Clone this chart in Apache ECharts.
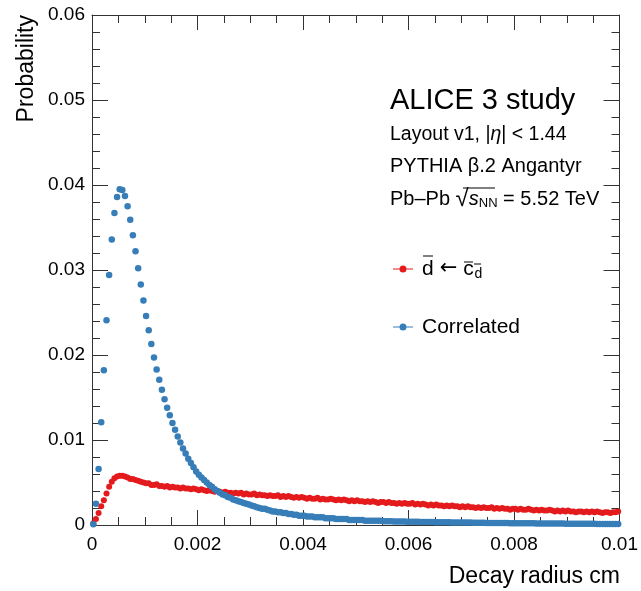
<!DOCTYPE html>
<html>
<head>
<meta charset="utf-8">
<script src="https://cdn.jsdelivr.net/npm/echarts@6/dist/echarts.min.js"></script>
<style>
  html, body { margin: 0; padding: 0; background: #fff; }
  #chart { width: 641px; height: 591px; }
</style>
</head>
<body>
<div id="chart"></div>
<script>
// Decay-radius distributions, 200 bins of 0.00005 cm between 0 and 0.01 cm
const binWidth = 0.00005;

// d̄ from c̄_d decays (per-bin probability)
const fromCharm = [
  0.0002, 0.0007, 0.0014, 0.0022, 0.0029, 0.0037, 0.0045, 0.0051, 0.0055, 0.0057,
  0.0058, 0.0058, 0.0057, 0.0056, 0.0054, 0.0054, 0.0053, 0.0052, 0.0051, 0.0050,
  0.0049, 0.0049, 0.0047, 0.0047, 0.0048, 0.0046, 0.0046, 0.0045, 0.0046, 0.0044,
  0.0045, 0.0044, 0.0044, 0.0043, 0.0044, 0.0043, 0.0043, 0.0042, 0.0043, 0.0042,
  0.0041, 0.0042, 0.0041, 0.0040, 0.0041, 0.0040, 0.0039, 0.0040, 0.0039, 0.0038,
  0.0039, 0.0038, 0.0038, 0.0037, 0.0038, 0.0037, 0.0038, 0.0036, 0.0037, 0.0036,
  0.0036, 0.0037, 0.0035, 0.0036, 0.0035, 0.0035, 0.0034, 0.0035, 0.0034, 0.0034,
  0.0035, 0.0033, 0.0034, 0.0033, 0.0034, 0.0033, 0.0032, 0.0033, 0.0032, 0.0033,
  0.0032, 0.0031, 0.0032, 0.0031, 0.0031, 0.0032, 0.0030, 0.0031, 0.0030, 0.0030,
  0.0031, 0.0030, 0.0029, 0.0030, 0.0029, 0.0030, 0.0029, 0.0028, 0.0029, 0.0028,
  0.0029, 0.0028, 0.0028, 0.0027, 0.0028, 0.0027, 0.0028, 0.0027, 0.0026, 0.0027,
  0.0027, 0.0026, 0.0027, 0.0026, 0.0026, 0.0025, 0.0026, 0.0025, 0.0026, 0.0025,
  0.0025, 0.0026, 0.0024, 0.0025, 0.0024, 0.0025, 0.0024, 0.0023, 0.0024, 0.0023,
  0.0024, 0.0023, 0.0023, 0.0022, 0.0023, 0.0022, 0.0023, 0.0022, 0.0022, 0.0021,
  0.0022, 0.0021, 0.0022, 0.0021, 0.0021, 0.0020, 0.0021, 0.0020, 0.0021, 0.0020,
  0.0020, 0.0021, 0.0019, 0.0020, 0.0019, 0.0020, 0.0019, 0.0019, 0.0018, 0.0019,
  0.0019, 0.0018, 0.0019, 0.0018, 0.0018, 0.0019, 0.0018, 0.0017, 0.0018, 0.0017,
  0.0018, 0.0017, 0.0017, 0.0018, 0.0017, 0.0016, 0.0017, 0.0016, 0.0017, 0.0016,
  0.0017, 0.0016, 0.0016, 0.0015, 0.0016, 0.0016, 0.0015, 0.0016, 0.0015, 0.0016,
  0.0015, 0.0016, 0.0015, 0.0014, 0.0015, 0.0015, 0.0014, 0.0015, 0.0015, 0.0016
];

// Correlated background (per-bin probability)
const correlated = [
  0.0001, 0.0025, 0.0066, 0.0121, 0.0182, 0.0241, 0.0294, 0.0336, 0.0367, 0.0386,
  0.0395, 0.0394, 0.0387, 0.0375, 0.0359, 0.0341, 0.0322, 0.0302, 0.0283, 0.0264,
  0.0246, 0.0229, 0.0213, 0.0197, 0.0183, 0.0171, 0.0159, 0.0148, 0.0138, 0.0129,
  0.0120, 0.0112, 0.0104, 0.0097, 0.0090, 0.0084, 0.0078, 0.0073, 0.0068, 0.0063,
  0.0059, 0.0056, 0.0053, 0.0050, 0.0047, 0.0045, 0.0042, 0.0040, 0.0038, 0.0036,
  0.0035, 0.0033, 0.0032, 0.0030, 0.0029, 0.0028, 0.0027, 0.0026, 0.0025, 0.0024,
  0.0023, 0.0022, 0.0021, 0.0020, 0.0019, 0.0019, 0.0018, 0.0017, 0.0016, 0.0016,
  0.0015, 0.0015, 0.0014, 0.0014, 0.0013, 0.0013, 0.0012, 0.0012, 0.0011, 0.0011,
  0.0011, 0.0010, 0.0010, 0.0010, 0.0009, 0.0009, 0.0009, 0.0009, 0.0008, 0.0008,
  0.0008, 0.0008, 0.0007, 0.0007, 0.0007, 0.0007, 0.0007, 0.0006, 0.0006, 0.0006,
  0.0006, 0.0006, 0.0006, 0.0005, 0.0005, 0.0005, 0.0005, 0.0005, 0.0005, 0.0005,
  0.00045, 0.00044, 0.00044, 0.00043, 0.00042, 0.00042, 0.00041, 0.00040, 0.00040, 0.00039,
  0.00038, 0.00038, 0.00037, 0.00037, 0.00036, 0.00036, 0.00035, 0.00035, 0.00034, 0.00034,
  0.00033, 0.00033, 0.00032, 0.00032, 0.00031, 0.00031, 0.00030, 0.00030, 0.00030, 0.00029,
  0.00029, 0.00028, 0.00028, 0.00028, 0.00027, 0.00027, 0.00026, 0.00026, 0.00026, 0.00025,
  0.00025, 0.00025, 0.00024, 0.00024, 0.00024, 0.00023, 0.00023, 0.00023, 0.00022, 0.00022,
  0.00022, 0.00021, 0.00021, 0.00021, 0.00020, 0.00020, 0.00020, 0.00020, 0.00019, 0.00019,
  0.00019, 0.00018, 0.00018, 0.00018, 0.00018, 0.00017, 0.00017, 0.00017, 0.00017, 0.00016,
  0.00016, 0.00016, 0.00016, 0.00015, 0.00015, 0.00015, 0.00015, 0.00014, 0.00014, 0.00014,
  0.00014, 0.00013, 0.00013, 0.00013, 0.00013, 0.00012, 0.00012, 0.00012, 0.00012, 0.00011
];

const seriesNames = ['fromCharm', 'Correlated'];
const seriesColors = ['#e41a1c', '#377eb8'];

const binCenters = fromCharm.map((_, i) => (i + 0.5) * binWidth);
const toPoints = vals => vals.map((v, i) => [binCenters[i], v]);

const FONT = '"Liberation Sans", Arial, Helvetica, sans-serif';
const AX = '#333';

const chart = echarts.init(document.getElementById('chart'), null, { renderer: 'canvas' });

// shared frame style: axes stay on the plot edges
const frameAxis = {
  axisLine: { show: true, onZero: false, lineStyle: { color: AX, width: 1 } },
  splitLine: { show: false }
};

// markers drawn as "—•—" in the legend
const legendIcon = 'path://M0,3 L6.5,3 L6.5,4 L0,4 Z M13.5,3 L20,3 L20,4 L13.5,4 Z M13.5,3.5 A3.5,3.5 0 1,1 6.5,3.5 A3.5,3.5 0 1,1 13.5,3.5 Z';

chart.setOption({
  backgroundColor: '#fff',
  animation: false,
  textStyle: { fontFamily: FONT },
  grid: { left: 92, right: 21, top: 15, bottom: 66 },
  xAxis: [
    Object.assign({}, frameAxis, {
      type: 'value', min: 0, max: 0.01, interval: 0.002, position: 'bottom',
      axisTick: { show: true, inside: true, length: 15, lineStyle: { color: AX } },
      minorTick: { show: true, splitNumber: 4, length: 8, lineStyle: { color: AX } },
      axisLabel: { color: '#000', fontSize: 19, margin: 10, fontFamily: FONT,
        formatter: v => (v === 0 ? '0' : String(+v.toFixed(3))) }
    }),
    Object.assign({}, frameAxis, {
      type: 'value', min: 0, max: 0.01, interval: 0.002, position: 'top',
      axisTick: { show: true, inside: true, length: 15, lineStyle: { color: AX } },
      minorTick: { show: true, splitNumber: 4, length: 8, lineStyle: { color: AX } },
      axisLabel: { show: false }
    })
  ],
  yAxis: [
    Object.assign({}, frameAxis, {
      type: 'value', min: 0, max: 0.06, interval: 0.01, position: 'left',
      axisTick: { show: true, inside: true, length: 16, lineStyle: { color: AX } },
      minorTick: { show: true, splitNumber: 5, length: 8, lineStyle: { color: AX } },
      axisLabel: { color: '#000', fontSize: 19, margin: 7, fontFamily: FONT,
        formatter: v => (v === 0 ? '0' : String(+v.toFixed(2))) }
    }),
    Object.assign({}, frameAxis, {
      type: 'value', min: 0, max: 0.06, interval: 0.01, position: 'right',
      axisTick: { show: true, inside: true, length: 16, lineStyle: { color: AX } },
      minorTick: { show: true, splitNumber: 5, length: 8, lineStyle: { color: AX } },
      axisLabel: { show: false }
    })
  ],
  legend: {
    orient: 'vertical', left: 388, top: 250, itemWidth: 20, itemHeight: 7,
    itemGap: 34, selectedMode: false,
    icon: legendIcon,
    data: seriesNames,
    formatter: name => name === 'fromCharm'
      ? '{g|}{d|d}{a|←}{c|c}{s|d}'
      : '{g|}{t|Correlated}',
    textStyle: {
      color: '#000', fontFamily: FONT, fontSize: 21, lineHeight: 24,
      rich: {
        g: { width: 4, height: 24 },
        d: { fontSize: 21, width: 12, fontFamily: FONT, lineHeight: 24 },
        a: { fontSize: 21, width: 29, align: 'center', fontFamily: '"DejaVu Sans", sans-serif', lineHeight: 24 },
        c: { fontSize: 21, width: 11, fontFamily: FONT, lineHeight: 24 },
        s: { fontSize: 14, width: 9, fontFamily: FONT, verticalAlign: 'bottom', lineHeight: 20, padding: [12, 0, 0, 0] },
        t: { fontSize: 21, fontFamily: FONT, lineHeight: 24 }
      }
    }
  },
  series: [
    {
      name: seriesNames[0], type: 'scatter', xAxisIndex: 0, yAxisIndex: 0,
      data: toPoints(fromCharm), symbol: 'circle', symbolSize: 6,
      itemStyle: { color: seriesColors[0], opacity: 1 }
    },
    {
      name: seriesNames[1], type: 'scatter', xAxisIndex: 0, yAxisIndex: 0,
      data: toPoints(correlated), symbol: 'circle', symbolSize: 6.5,
      itemStyle: { color: seriesColors[1], opacity: 1 }
    }
  ],
  graphic: [
    // axis titles
    { type: 'text', x: 27, y: 15, rotation: Math.PI / 2,
      style: { text: 'Probability', font: '23px ' + FONT, fill: '#000', align: 'right', verticalAlign: 'middle' } },
    { type: 'text', x: 620, y: 577,
      style: { text: 'Decay radius cm', font: '23px ' + FONT, fill: '#000', align: 'right', verticalAlign: 'middle' } },
    // header block
    { type: 'text', x: 390, y: 101,
      style: { text: 'ALICE 3 study', font: '29px ' + FONT, fill: '#000', align: 'left', verticalAlign: 'middle' } },
    { type: 'text', x: 390, y: 135,
      style: { text: 'Layout v1, |{i|η}| < 1.44', font: '19.5px ' + FONT, fill: '#000', align: 'left', verticalAlign: 'middle',
        rich: { i: { font: 'italic 19.5px ' + FONT } } } },
    { type: 'text', x: 390, y: 166,
      style: { text: 'PYTHIA β.2 Angantyr', font: '20px ' + FONT, fill: '#000', align: 'left', verticalAlign: 'middle' } },
    { type: 'text', x: 390, y: 199,
      style: { text: 'Pb–Pb {r|√}{i|s}{n|NN} = 5.52 TeV', font: '20px ' + FONT, fill: '#000', align: 'left', verticalAlign: 'middle',
        rich: {
          r: { font: '24px ' + FONT },
          i: { font: 'italic 20px ' + FONT },
          n: { font: '13px ' + FONT, padding: [8, 0, 0, 0] }
        } } },
    // radical bar over s_NN
    { type: 'line', shape: { x1: 463, y1: 188, x2: 495, y2: 188 }, style: { stroke: '#000', lineWidth: 1 } },
    // overlines of the antiquark labels
    { type: 'line', shape: { x1: 423, y1: 256, x2: 433, y2: 256 }, style: { stroke: '#000', lineWidth: 1 } },
    { type: 'line', shape: { x1: 464, y1: 262, x2: 473, y2: 262 }, style: { stroke: '#000', lineWidth: 1 } },
    { type: 'line', shape: { x1: 474, y1: 264, x2: 481, y2: 264 }, style: { stroke: '#000', lineWidth: 1 } }
  ]
});
</script>
</body>
</html>
